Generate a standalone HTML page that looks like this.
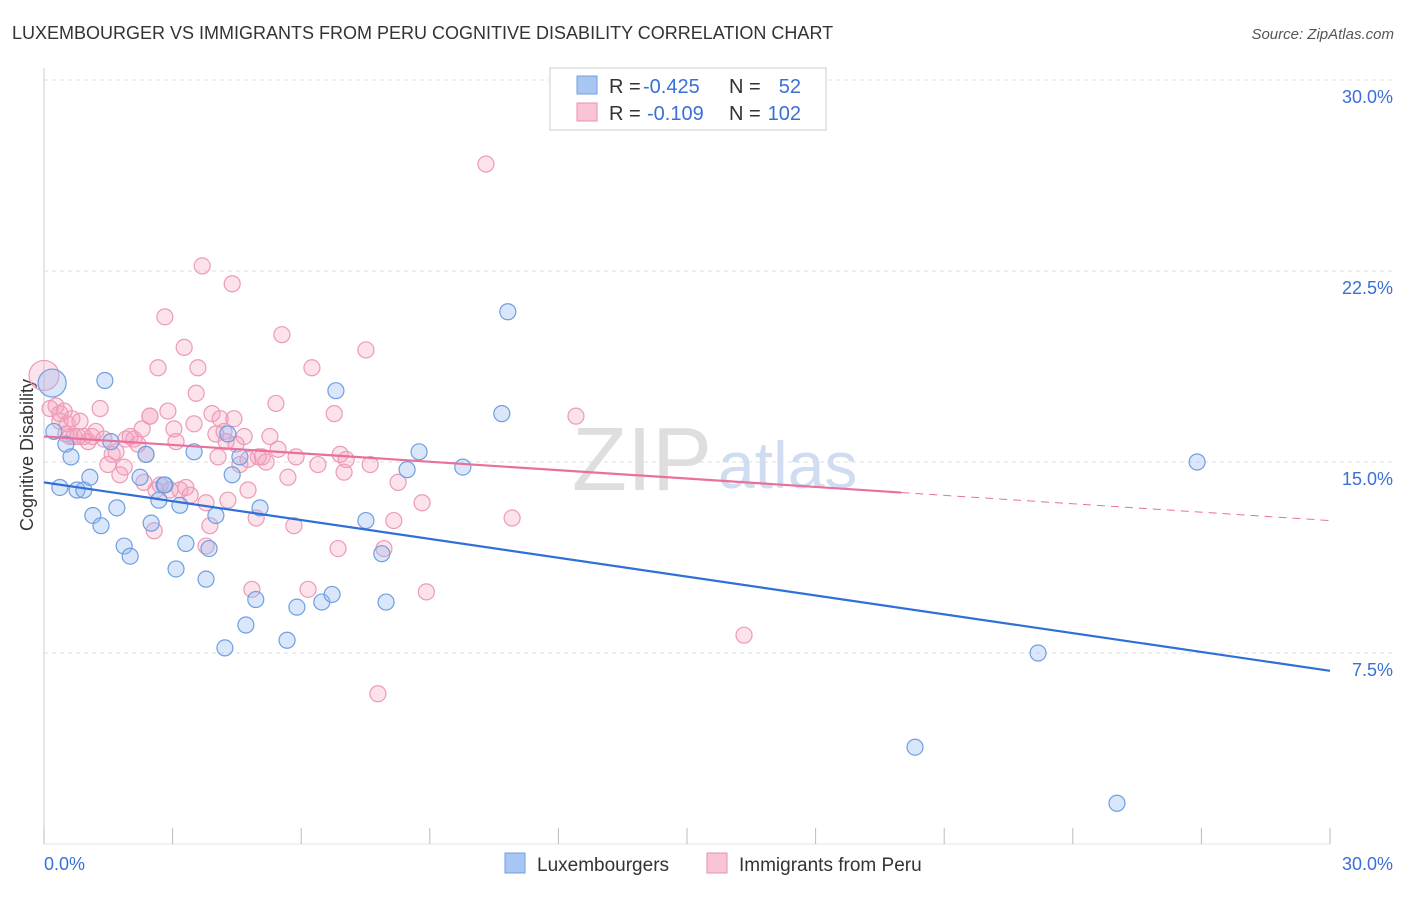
<!DOCTYPE html>
<html><head><meta charset="utf-8"><style>
body{margin:0;background:#fff;font-family:"Liberation Sans",sans-serif}
svg text{font-family:"Liberation Sans",sans-serif}
</style></head><body>
<svg id="chart" width="1406" height="892">
<text x="12" y="39" font-size="18" fill="#333">LUXEMBOURGER VS IMMIGRANTS FROM PERU COGNITIVE DISABILITY CORRELATION CHART</text>
<text x="1394" y="39" font-size="15" fill="#555" font-style="italic" text-anchor="end">Source: ZipAtlas.com</text>
<text x="712" y="490" font-size="90" fill="#dedede" text-anchor="end" font-family="Liberation Serif">ZIP</text>
<text x="718" y="488" font-size="66" fill="#cfdcf2">atlas</text>
<text transform="translate(33,455) rotate(-90)" font-size="18" fill="#333" text-anchor="middle">Cognitive Disability</text>
<g id="grid"></g><g id="pts"></g><g id="lines"></g>
<g>
<rect x="550" y="68" width="276" height="62" fill="#fff" stroke="#ccc"/>
<rect x="577" y="76" width="20" height="18" fill="#a8c6f2" stroke="#6f9fe0"/>
<rect x="577" y="103" width="20" height="18" fill="#f9c4d6" stroke="#e890b0"/>
<text x="609" y="93" font-size="20" fill="#333">R =</text>
<text x="643" y="93" font-size="20" fill="#3a6fd8">-0.425</text>
<text x="729" y="93" font-size="20" fill="#333">N =</text>
<text x="801" y="93" font-size="20" fill="#3a6fd8" text-anchor="end">52</text>
<text x="609" y="120" font-size="20" fill="#333">R =</text>
<text x="647" y="120" font-size="20" fill="#3a6fd8">-0.109</text>
<text x="729" y="120" font-size="20" fill="#333">N =</text>
<text x="801" y="120" font-size="20" fill="#3a6fd8" text-anchor="end">102</text>
</g>
<g>
<rect x="505" y="853" width="20" height="20" fill="#a8c6f2" stroke="#6f9fe0"/>
<text x="537" y="871" font-size="19" fill="#333">Luxembourgers</text>
<rect x="707" y="853" width="20" height="20" fill="#f9c4d6" stroke="#e890b0"/>
<text x="739" y="871" font-size="19" fill="#333">Immigrants from Peru</text>
</g>
</svg>
<script>
const yTicks=[7.5,15,22.5,30];
const yTickLabels=["7.5%","15.0%","22.5%","30.0%"];
const xTickLabels=["0.0%","30.0%"];
const blueX=[0.19,0.23,0.37,0.51,0.63,0.77,0.93,1.07,1.14,1.33,1.42,1.56,1.70,1.87,2.01,2.24,2.38,2.5,2.68,2.8,3.08,3.17,3.31,3.5,3.78,3.85,4.01,4.22,4.29,4.39,4.57,4.71,4.94,5.04,5.67,5.90,6.48,6.72,6.81,7.51,7.88,7.98,8.47,8.75,9.77,10.68,10.82,20.32,23.19,25.03,26.90,2.82];
const blueY=[18.1,16.2,14.0,15.7,15.2,13.9,13.9,14.4,12.9,12.5,18.2,15.8,13.2,11.7,11.3,14.4,15.3,12.6,13.5,14.1,10.8,13.3,11.8,15.4,10.4,11.6,12.9,7.7,16.1,14.5,15.2,8.6,9.6,13.2,8.0,9.3,9.5,9.8,17.8,12.7,11.4,9.5,14.7,15.4,14.8,16.9,20.9,3.8,7.5,1.6,15.0,14.1];
const pinkX=[0,0.14,0.28,0.37,0.47,0.54,0.61,0.70,0.84,0.93,1.03,1.12,1.21,1.31,1.40,1.49,1.59,1.68,1.77,1.87,1.91,2.01,2.1,2.19,2.29,2.38,2.47,2.47,2.57,2.61,2.66,2.71,2.82,2.89,2.94,3.03,3.08,3.17,3.27,3.41,3.5,3.55,3.59,3.69,3.78,3.78,3.87,3.92,4.01,4.06,4.11,4.2,4.25,4.29,4.39,4.43,4.48,4.57,4.67,4.76,4.85,4.95,5.0,5.09,5.27,5.41,5.46,5.55,5.69,5.83,5.88,6.16,6.25,6.39,6.77,6.86,6.91,7.0,7.05,7.51,7.61,7.79,7.93,8.16,8.26,8.82,8.92,10.31,10.92,12.41,16.33,0.37,0.51,0.65,0.79,2.33,3.31,4.76,5.18];
const pinkY=[18.4,17.1,17.2,16.6,17.0,16.5,16.0,16.0,16.6,16.0,15.8,16.0,16.2,17.1,15.9,14.9,15.3,15.4,14.5,14.8,15.9,16.0,15.9,15.7,16.3,15.3,16.8,16.8,12.3,13.9,18.7,14.1,20.7,17.0,13.9,16.3,15.8,13.9,19.5,13.7,16.5,17.7,18.7,22.7,13.4,11.7,12.5,16.9,16.1,15.2,16.7,16.2,15.8,13.5,22.0,16.7,15.7,14.9,16.0,13.9,10.0,12.8,15.2,15.2,16.0,17.3,15.5,20.0,14.4,12.5,15.2,10.0,18.7,14.9,16.9,11.6,15.3,14.6,15.1,19.4,14.9,5.9,11.6,12.7,14.2,13.4,9.9,26.7,12.8,16.8,8.2,16.9,16.1,16.7,16.0,14.2,14.0,15.1,15.0];
const blueTrend=[14.2,6.8];
const pinkTrend=[16.0,13.8,12.7];
const pinkSolidEnd=20.0;
const NS="http://www.w3.org/2000/svg";
const X=v=>44+v/30*1286, Y=v=>844-v/7.5*191;
function mk(t,a,p){const e=document.createElementNS(NS,t);for(const k in a)e.setAttribute(k,a[k]);p.appendChild(e);return e;}
const grid=document.getElementById('grid');
const ax=mk('line',{x1:44,y1:68,x2:44,y2:844,stroke:'#ccc'},grid);

const bx=mk('line',{x1:44,y1:844,x2:1330,y2:844,stroke:'#e4e4e4'},grid);

yTicks.forEach((t,i)=>{
 const l=mk('line',{x1:44,y1:Y(t),x2:1394,y2:Y(t),stroke:'#ddd','stroke-dasharray':'4,4'},grid);
 
 const tx=mk('text',{x:1393,y:Y(t)+23,'font-size':18,fill:'#3a6fd8','text-anchor':'end'},grid);tx.textContent=yTickLabels[i];
 
});
for(let i=0;i<=10;i++){const l=mk('line',{x1:X(i*3),y1:828,x2:X(i*3),y2:844,stroke:'#bbb'},grid);
 }
[[44,'start',0],[1393,'end',1]].forEach(([x,a,i])=>{const t=mk('text',{x:x,y:870,'font-size':18,fill:'#3a6fd8','text-anchor':a},grid);t.textContent=xTickLabels[i];
 });
const pts=document.getElementById('pts');
pinkX.forEach((v,i)=>{const c=mk('circle',{cx:X(v),cy:Y(pinkY[i]),r:i==0?15:8,fill:'rgba(245,160,190,0.3)',stroke:'#ec9ab8','stroke-width':1.2},pts);
 });
blueX.forEach((v,i)=>{const c=mk('circle',{cx:X(v),cy:Y(blueY[i]),r:i==0?14:8,fill:'rgba(150,185,240,0.35)',stroke:'#6f9fe0','stroke-width':1.2},pts);
 });
const lines=document.getElementById('lines');
const bl=mk('line',{x1:X(0),y1:Y(blueTrend[0]),x2:X(30),y2:Y(blueTrend[1]),stroke:'#2f6fd8','stroke-width':2.2},lines);

const pl=mk('line',{x1:X(0),y1:Y(pinkTrend[0]),x2:X(pinkSolidEnd),y2:Y(pinkTrend[1]),stroke:'#e8709a','stroke-width':2.2},lines);

const pd=mk('line',{x1:X(pinkSolidEnd),y1:Y(pinkTrend[1]),x2:X(30),y2:Y(pinkTrend[2]),stroke:'#e8709a','stroke-width':1,'stroke-dasharray':'8,6'},lines);

</script>
</body></html>
